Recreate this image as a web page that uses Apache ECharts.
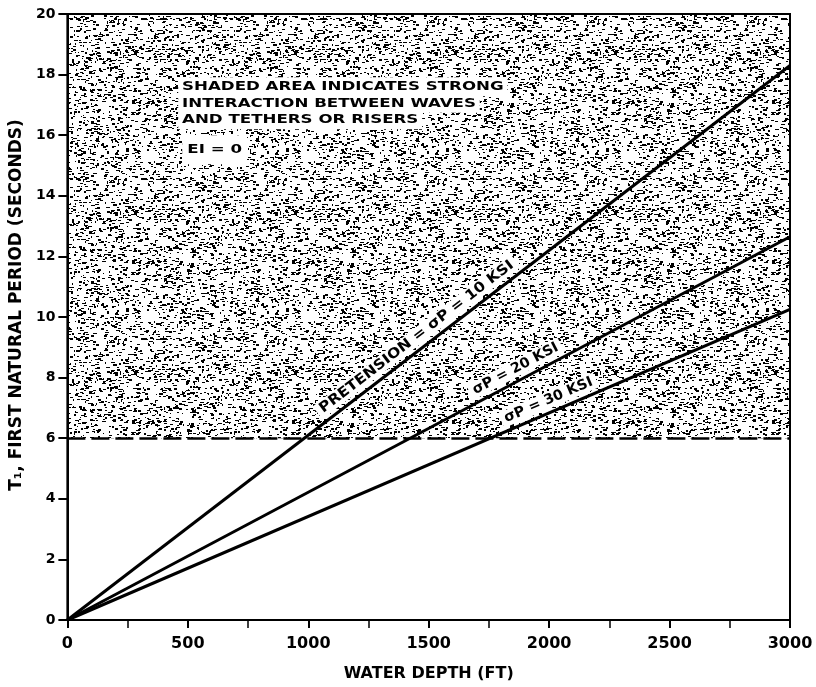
<!DOCTYPE html>
<html>
<head>
<meta charset="utf-8">
<script src="https://cdn.jsdelivr.net/npm/echarts@6/dist/echarts.min.js"></script>
<style>
  html, body { margin: 0; padding: 0; background: #fff; }
  #chart { width: 816px; height: 687px; }
</style>
</head>
<body>
<div id="chart"></div>
<script>
// Water depth (ft) at the two ends of every curve, and the first natural period (s) there
const depths = [0, 3000];
const periodTenKsi = [0, 18.3];
const periodTwentyKsi = [0, 12.65];
const periodThirtyKsi = [0, 10.25];
const curveLabels = ['PRETENSION = σP = 10 KSI', 'σP = 20 KSI', 'σP = 30 KSI'];

// Axis ticks
const depthTicks = [0, 500, 1000, 1500, 2000, 2500, 3000];
const periodTicks = [0, 2, 4, 6, 8, 10, 12, 14, 16, 18, 20];

// Region of strong wave / tether interaction (period above this value)
const interactionFrom = 6;
const noteLines = ['SHADED AREA INDICATES STRONG', 'INTERACTION BETWEEN WAVES', 'AND TETHERS OR RISERS'];
const noteStiffness = 'EI = 0';

const FONT = '"DejaVu Sans", Verdana, sans-serif';

// Speckled fill used for the shaded region (fixed seed so it is the same on every load)
function makeStipple(size, count) {
  const c = document.createElement('canvas');
  c.width = c.height = size;
  const g = c.getContext('2d');
  g.fillStyle = '#000';
  let s = 20240611;
  const rnd = () => {
    s = (Math.imul(s ^ (s >>> 15), 0x2c1b3c6d) + 0x6d2b79f5) >>> 0;
    s ^= s >>> 13;
    return (s >>> 0) / 4294967296;
  };
  const shapes = [[2, 1], [3, 1], [2, 2], [1, 2], [3, 2], [4, 1], [1, 1], [2, 1], [3, 1]];
  for (let i = 0; i < count; i++) {
    const x = Math.floor(rnd() * size);
    const y = Math.floor(rnd() * size);
    const sh = shapes[Math.floor(rnd() * shapes.length)];
    const w = sh[0], h = sh[1];
    g.fillRect(x, y, w, h);
    if (x + w > size) g.fillRect(x - size, y, w, h);
    if (y + h > size) g.fillRect(x, y - size, w, h);
  }
  return c;
}

const chart = echarts.init(document.getElementById('chart'), null, { renderer: 'canvas' });

const curves = [periodTenKsi, periodTwentyKsi, periodThirtyKsi];
const lineSeries = curves.map((vals, k) => ({
  type: 'line',
  name: curveLabels[k],
  data: depths.map((d, i) => [d, vals[i]]),
  showSymbol: false,
  silent: true,
  z: 3,
  lineStyle: { color: '#000', width: 3 },
  animation: false
}));

const xMin = depthTicks[0], xMax = depthTicks[depthTicks.length - 1];
const yMin = periodTicks[0], yMax = periodTicks[periodTicks.length - 1];

chart.setOption({
  animation: false,
  backgroundColor: '#fff',
  grid: {
    left: 67, right: 26, top: 14, bottom: 64,
    show: true, borderColor: '#000', borderWidth: 2, backgroundColor: 'transparent'
  },
  xAxis: {
    type: 'value',
    min: xMin, max: xMax,
    interval: depthTicks[1] - depthTicks[0],
    z: 4,
    name: 'WATER DEPTH (FT)',
    nameLocation: 'middle',
    nameGap: 46,
    nameTextStyle: { fontFamily: FONT, fontWeight: 'bold', fontSize: 16, color: '#000' },
    axisLine: { show: true, lineStyle: { color: '#000', width: 2 } },
    axisTick: { show: true, inside: false, length: 8, lineStyle: { color: '#000', width: 2 } },
    minorTick: { show: true, splitNumber: 2, length: 8, lineStyle: { color: '#000', width: 1.5 } },
    axisLabel: {
      margin: 16, fontFamily: FONT, fontWeight: 'bold', fontSize: 16, color: '#000',
      formatter: v => String(v)
    },
    splitLine: { show: false }
  },
  yAxis: {
    type: 'value',
    min: yMin, max: yMax,
    interval: periodTicks[1] - periodTicks[0],
    z: 4,
    name: 'T₁, FIRST NATURAL PERIOD (SECONDS)',
    nameLocation: 'middle',
    nameGap: 41,
    nameTextStyle: { fontFamily: FONT, fontWeight: 'bold', fontSize: 17, color: '#000', padding: [0, 0, 0, 24] },
    axisLine: { show: true, lineStyle: { color: '#000', width: 2 } },
    axisTick: { show: true, inside: false, length: 9, lineStyle: { color: '#000', width: 2 } },
    axisLabel: {
      margin: 12, fontFamily: FONT, fontWeight: 'bold', fontSize: 14, color: '#000',
      formatter: v => String(v)
    },
    splitLine: { show: false }
  },
  series: [
    {
      type: 'line',
      name: 'interaction zone',
      data: [],
      silent: true,
      markArea: {
        silent: true,
        z: 1,
        itemStyle: { color: { image: makeStipple(160, 1900), repeat: 'repeat' } },
        data: [[{ xAxis: xMin, yAxis: interactionFrom }, { xAxis: xMax, yAxis: yMax }]]
      },
      markLine: {
        silent: true,
        z: 6,
        symbol: ['none', 'none'],
        label: { show: false },
        lineStyle: { color: '#000', width: 2.5, type: [18, 6] },
        data: [[{ coord: [xMin, interactionFrom] }, { coord: [xMax, interactionFrom] }]]
      }
    }
  ].concat(lineSeries)
});

// Rotated curve labels laid along each line, plus the note in the shaded region
function placeLabels() {
  const labelAtDepth = [1480, 1884, 2017];
  const labelStretch = [1.12, 1.02, 1.02];
  const graphics = [];
  curves.forEach((vals, k) => {
    const p0 = chart.convertToPixel({ gridIndex: 0 }, [depths[0], vals[0]]);
    const p1 = chart.convertToPixel({ gridIndex: 0 }, [depths[1], vals[1]]);
    const angle = Math.atan2(p0[1] - p1[1], p1[0] - p0[0]);
    const xd = labelAtDepth[k];
    const yd = vals[0] + (vals[1] - vals[0]) * (xd - depths[0]) / (depths[1] - depths[0]);
    const p = chart.convertToPixel({ gridIndex: 0 }, [xd, yd]);
    graphics.push({
      type: 'text',
      x: p[0], y: p[1],
      rotation: angle,
      scaleX: labelStretch[k],
      z: 2,
      silent: true,
      style: {
        text: curveLabels[k],
        x: 0, y: -4,
        font: 'bold 14px ' + FONT,
        fill: '#000',
        align: 'center',
        verticalAlign: 'bottom',
        backgroundColor: '#fff',
        padding: [1, 4]
      }
    });
  });

  const anchor = chart.convertToPixel({ gridIndex: 0 }, [460, 17.6]);
  noteLines.forEach((t, i) => {
    graphics.push({
      type: 'text',
      x: anchor[0], y: anchor[1] + i * 16.5,
      scaleX: 1.28,
      z: 2,
      silent: true,
      style: {
        text: t,
        font: 'bold 13px ' + FONT,
        fill: '#000',
        align: 'left',
        verticalAlign: 'middle',
        backgroundColor: '#fff',
        padding: [3, 3]
      }
    });
  });
  graphics.push({
    type: 'text',
    x: anchor[0] + 4, y: anchor[1] + 63,
    scaleX: 1.28,
    z: 2,
    silent: true,
    style: {
      text: noteStiffness,
      font: 'bold 13px ' + FONT,
      fill: '#000',
      align: 'left',
      verticalAlign: 'middle',
      backgroundColor: '#fff',
      padding: [8, 4]
    }
  });
  chart.setOption({ graphic: graphics });
}
placeLabels();
</script>
</body>
</html>
